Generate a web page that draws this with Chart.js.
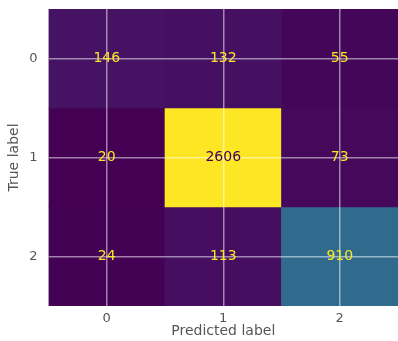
<!DOCTYPE html>
<html>
<head>
<meta charset="utf-8">
<script src="https://cdn.jsdelivr.net/npm/chart.js@4/dist/chart.umd.min.js"></script>
<style>
  html, body { margin: 0; padding: 0; background: #ffffff; }
  #wrap { width: 398px; height: 341px; position: relative; }
</style>
</head>
<body>
<div id="wrap"><canvas id="cm"></canvas></div>
<script>
// Confusion matrix counts: rows = true label, columns = predicted label
const predictedLabels = ['0', '1', '2'];
const trueLabels = ['0', '1', '2'];
const row0 = [146, 132, 55];
const row1 = [20, 2606, 73];
const row2 = [24, 113, 910];
const counts = [row0, row1, row2];

// viridis colormap, sampled at 10 even stops
const viridisStops = ['#440154', '#482878', '#3e4989', '#31688e', '#26828e',
                      '#1f9e89', '#35b779', '#6ece58', '#b5de2b', '#fde725'];
function hexToRgb(h) {
  const n = parseInt(h.slice(1), 16);
  return [(n >> 16) & 255, (n >> 8) & 255, n & 255];
}
function viridis(t) {
  t = Math.max(0, Math.min(1, t));
  const pos = t * (viridisStops.length - 1);
  const i = Math.min(Math.floor(pos), viridisStops.length - 2);
  const f = pos - i;
  const a = hexToRgb(viridisStops[i]);
  const b = hexToRgb(viridisStops[i + 1]);
  const c = a.map((v, k) => Math.round(v + (b[k] - v) * f));
  return `rgb(${c[0]},${c[1]},${c[2]})`;
}

const allValues = counts.flat();
const vMin = Math.min(...allValues);
const vMax = Math.max(...allValues);
const threshold = (vMin + vMax) / 2;
const norm = v => (v - vMin) / (vMax - vMin);

const FONT = "'DejaVu Sans', sans-serif";
const AXIS_COLOR = '#555555';

// one floating-bar dataset per true-label row; each bar covers one cell
const datasets = counts.map((row, r) => ({
  label: 'True ' + trueLabels[r],
  data: row.map(() => [r - 0.5, r + 0.5]),
  backgroundColor: row.map(v => viridis(norm(v))),
  borderWidth: 0,
  grouped: false,
  barPercentage: 1.0,
  categoryPercentage: 1.0
}));

// writes each count in the centre of its cell
const cellText = {
  id: 'cellText',
  afterDraw(chart) {
    const { ctx, scales: { x, y } } = chart;
    ctx.save();
    ctx.font = `14px ${FONT}`;
    ctx.textAlign = 'center';
    ctx.textBaseline = 'middle';
    counts.forEach((row, r) => {
      row.forEach((v, c) => {
        ctx.fillStyle = v < threshold ? viridis(1) : viridis(0);
        ctx.fillText(String(v), x.getPixelForValue(c), y.getPixelForValue(r));
      });
    });
    ctx.restore();
  }
};

new Chart(document.getElementById('cm'), {
  type: 'bar',
  data: { labels: predictedLabels, datasets },
  plugins: [cellText],
  options: {
    responsive: true,
    maintainAspectRatio: false,
    animation: false,
    layout: { padding: { top: 9, left: 0, right: 0, bottom: 0 } },
    plugins: {
      legend: { display: false },
      tooltip: { enabled: false }
    },
    scales: {
      x: {
        type: 'category',
        offset: true,
        border: { display: false },
        grid: {
          offset: false,
          z: 1,
          color: 'rgba(255,255,255,0.5)',
          lineWidth: 1.5,
          drawTicks: false
        },
        ticks: { color: AXIS_COLOR, font: { family: FONT, size: 13 }, padding: 5, maxRotation: 0 },
        title: {
          display: true,
          text: 'Predicted label',
          color: AXIS_COLOR,
          font: { family: FONT, size: 14 },
          padding: { top: 0, bottom: 1 }
        },
        afterFit(scale) {
          scale.height = 35;
          scale.paddingLeft = 0;
          scale.paddingRight = 0;
        }
      },
      y: {
        type: 'linear',
        reverse: true,
        min: -0.5,
        max: 2.5,
        border: { display: false },
        grid: {
          z: 1,
          color: 'rgba(255,255,255,0.5)',
          lineWidth: 1.5,
          drawTicks: false
        },
        afterBuildTicks(scale) {
          scale.ticks = trueLabels.map((_, i) => ({ value: i }));
        },
        ticks: {
          color: AXIS_COLOR,
          font: { family: FONT, size: 13 },
          padding: 11,
          callback: v => trueLabels[v]
        },
        title: {
          display: true,
          text: 'True label',
          color: AXIS_COLOR,
          font: { family: FONT, size: 14 },
          padding: { top: 5.6, bottom: 0 }
        },
        afterFit(scale) {
          scale.width = 48.5;
          scale.paddingTop = 0;
          scale.paddingBottom = 0;
        }
      }
    }
  }
});
</script>
</body>
</html>
